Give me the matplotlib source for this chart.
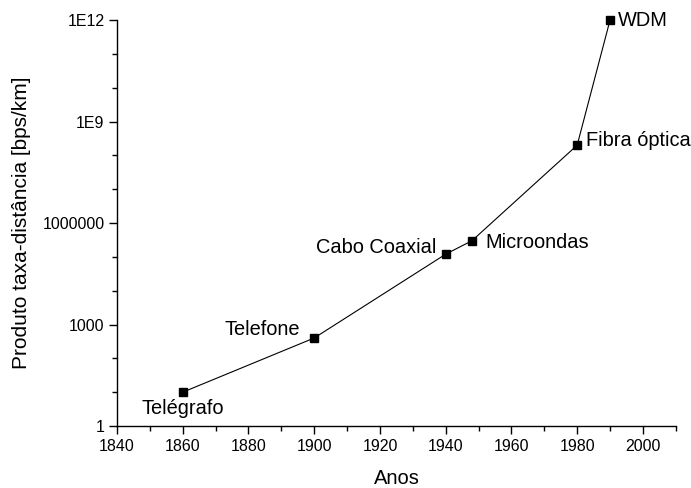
import numpy as np
import matplotlib
matplotlib.use('Agg')
from matplotlib import pyplot as plt
from matplotlib.ticker import FixedLocator, FixedFormatter, MultipleLocator

plt.rcParams['font.family'] = ['Liberation Sans', 'DejaVu Sans']

years = [1860, 1900, 1940, 1948, 1980, 1990]
values = [10, 400, 1.2e5, 3e5, 2e8, 1e12]
names = ['Telégrafo', 'Telefone', 'Cabo Coaxial', 'Microondas', 'Fibra óptica', 'WDM']
y_ticks = [1, 1e3, 1e6, 1e9, 1e12]
y_tick_labels = ['1', '1000', '1000000', '1E9', '1E12']

# label offsets (points) and alignment per point
offsets = [(0, -11.5, 'center'),
           (-10, 6, 'right'),
           (-6.5, 5, 'right'),
           (9.4, -1, 'left'),
           (6.5, 3.6, 'left'),
           (5.8, 0, 'left')]

fig = plt.figure(figsize=(6.91, 4.88), dpi=100)
ax = fig.add_axes([0.1693, 0.127, 0.978 - 0.1693, 0.959 - 0.127])

ax.plot(years, values, color='black', linewidth=0.8, marker='s', markersize=6,
        clip_on=False, zorder=3)
ax.set_yscale('log')
ax.set_xlim(1840, 2010)
ax.set_ylim(1, 1e12)

ax.xaxis.set_major_locator(FixedLocator(np.arange(1840, 2001, 20)))
ax.xaxis.set_minor_locator(MultipleLocator(10))
ax.yaxis.set_major_locator(FixedLocator(y_ticks))
ax.yaxis.set_major_formatter(FixedFormatter(y_tick_labels))
ax.yaxis.set_minor_locator(FixedLocator([10.0 ** k for k in range(13) if k % 3]))
ax.yaxis.set_minor_formatter(FixedFormatter([]))

for side in ['top', 'right']:
    ax.spines[side].set_visible(False)
for side in ['left', 'bottom']:
    ax.spines[side].set_linewidth(1.0)

ax.tick_params(which='major', direction='out', length=6, width=1.0, labelsize=11.5, pad=3)
ax.tick_params(which='minor', direction='out', length=3.5, width=1.0)

for x, y, name, (dx, dy, ha) in zip(years, values, names, offsets):
    ax.annotate(name, (x, y), xytext=(dx, dy), textcoords='offset points',
                ha=ha, va='center', fontsize=14.4)

ax.set_xlabel('Anos', fontsize=14.5, labelpad=11)
ax.set_ylabel('Produto taxa-distância [bps/km]', fontsize=15, labelpad=8)

fig.savefig('out.png', dpi=100)
